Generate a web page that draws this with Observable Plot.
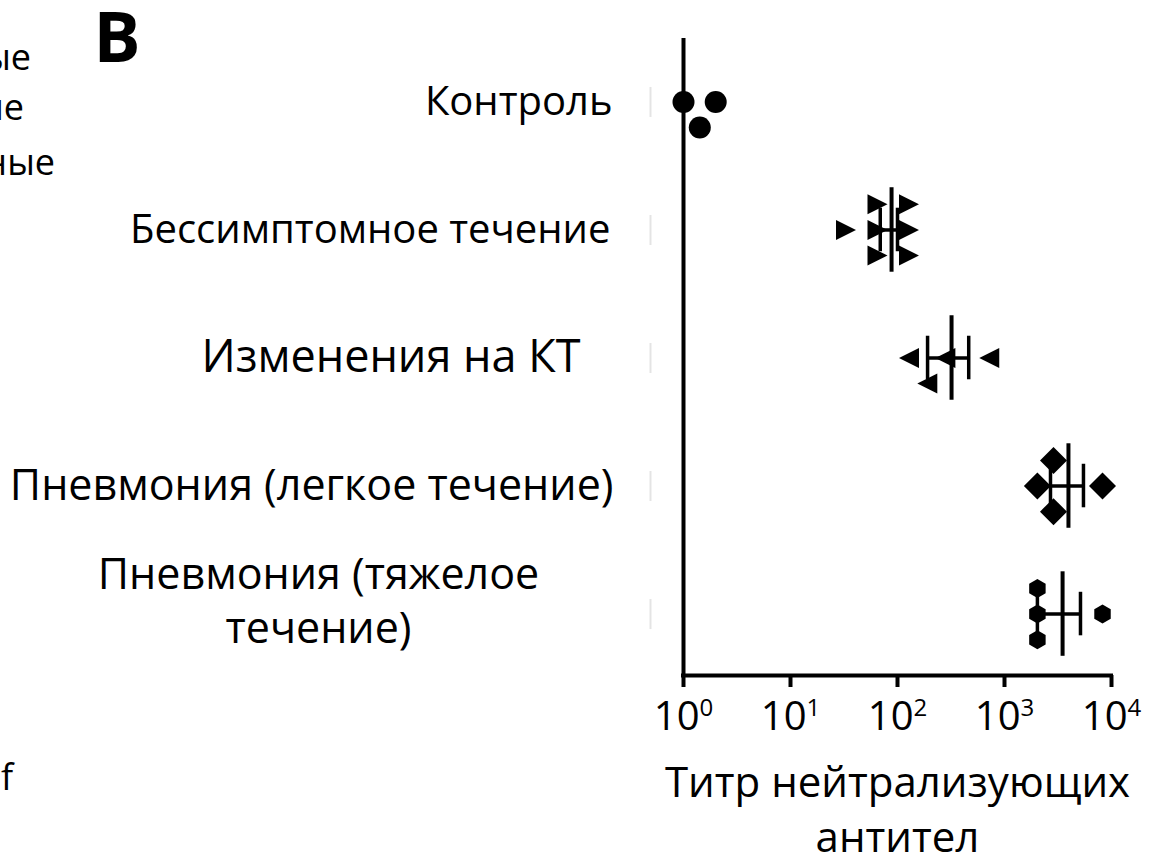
<!DOCTYPE html>
<html><head><meta charset="utf-8">
<script src="https://cdn.jsdelivr.net/npm/d3@7"></script>
<script src="https://cdn.jsdelivr.net/npm/@observablehq/plot@0.6"></script>
<style>body{margin:0;background:#fff}#chart svg{display:block}</style>
</head><body><div id="chart"></div>
<script>
// ---- data ----
const categories = ["Контроль", "Бессимптомное течение", "Изменения на КТ", "Пневмония (легкое течение)", "Пневмония (тяжелое\nтечение)"];
const xTicks = [1, 10, 100, 1000, 10000];
const xTitle = "Титр нейтрализующих\nантител";
const panelLetter = "B";

// individual titers per group, and jitter lane (vertical stacking rank)
const controlValues = [1.0, 2.0, 1.42];
const controlLanes = [0, 0, 1];
const asymptomaticValues = [33, 65, 65, 65, 128, 128, 128];
const asymptomaticLanes = [0, -1, 0, 1, -1, 0, 1];
const ctValues = [128, 280, 190, 720];
const ctLanes = [0, 0, 1, 0];
const mildValues = [2030, 2870, 2870, 8240];
const mildLanes = [0, -1, 1, 0];
const severeValues = [2030, 2030, 2030, 8240];
const severeLanes = [-1, 0, 1, 0];

// summary (mean with error bar) per group
const summaryGroup = [1, 2, 3, 4];
const summaryMean = [88, 320, 3960, 3490];
const summaryLow = [69, 191, 2690, 2030];
const summaryHigh = [100, 463, 5470, 5130];

// ---- symbols ----
const rOf = size => Math.sqrt(size / Math.PI);
const triRight = {draw(c, s){const R = rOf(s); c.moveTo(-R, -R); c.lineTo(R, 0); c.lineTo(-R, R); c.closePath();}};
const triLeft = {draw(c, s){const R = rOf(s); c.moveTo(R, -R); c.lineTo(-R, 0); c.lineTo(R, R); c.closePath();}};
const diamond = {draw(c, s){const R = rOf(s); c.moveTo(0, -R); c.lineTo(R, 0); c.lineTo(0, R); c.lineTo(-R, 0); c.closePath();}};
const hexagon = {draw(c, s){const R = rOf(s); for (let i = 0; i < 6; i++){const a = Math.PI / 3 * i - Math.PI / 2; const px = R * Math.cos(a), py = R * Math.sin(a); if (i) c.lineTo(px, py); else c.moveTo(px, py);} c.closePath();}};
const vline = {draw(c, s){const R = rOf(s); c.moveTo(0, -R); c.lineTo(0, R);}};

const groups = [
  {values: controlValues, lanes: controlLanes, symbol: "circle", r: 11},
  {values: asymptomaticValues, lanes: asymptomaticLanes, symbol: triRight, r: 10},
  {values: ctValues, lanes: ctLanes, symbol: triLeft, r: 10},
  {values: mildValues, lanes: mildLanes, symbol: diamond, r: 13.5},
  {values: severeValues, lanes: severeLanes, symbol: hexagon, r: 9.5}
];
const laneStep = 0.2;
const pad = 0.48;
const yMax = categories.length - 1 + pad;

const summary = summaryGroup.map((g, i) => ({g, mean: summaryMean[i], lo: summaryLow[i], hi: summaryHigh[i]}));

const labelStyle = [
  {dx: -71, fontSize: 40},
  {dx: -73, fontSize: 40},
  {dx: -103, fontSize: 45},
  {dx: -70, fontSize: 43},
  {dx: -365, dy: -15, fontSize: 43, textAnchor: "middle", lineHeight: 1.25}
];

const marks = [];
// faint marks left of the axis
marks.push(Plot.dot(d3.range(categories.length), {y: d => d, frameAnchor: "left", dx: -33, symbol: vline, r: 15, stroke: "#e4e4e4", strokeWidth: 2}));
// points
groups.forEach((g, gi) => {
  const data = g.values.map((v, i) => ({v, y: gi + g.lanes[i] * laneStep}));
  marks.push(Plot.dot(data, {x: "v", y: "y", symbol: g.symbol, r: g.r, fill: "black", stroke: null}));
});
// mean and error bars
marks.push(Plot.ruleY(summary, {y: "g", x1: "lo", x2: "hi", strokeWidth: 3.5}));
marks.push(Plot.ruleX(summary, {x: "mean", y1: d => d.g - 0.33, y2: d => d.g + 0.33, strokeWidth: 4}));
marks.push(Plot.ruleX(summary, {x: "lo", y1: d => d.g - 0.17, y2: d => d.g + 0.17, strokeWidth: 3.5}));
marks.push(Plot.ruleX(summary, {x: "hi", y1: d => d.g - 0.17, y2: d => d.g + 0.17, strokeWidth: 3.5}));
// axes lines
marks.push(Plot.ruleX([1], {strokeWidth: 4, strokeLinecap: "square"}));
marks.push(Plot.ruleY([yMax], {strokeWidth: 4, strokeLinecap: "square"}));
marks.push(Plot.axisX({ticks: xTicks, tickSize: 12, tickPadding: 14, strokeWidth: 4, fontSize: 40, tickFormat: d => String(Math.round(Math.log10(d))), label: null}));
// category labels
categories.forEach((c, i) => {
  marks.push(Plot.text([i], {y: d => d, text: () => c, frameAnchor: "left", textAnchor: "end", ...labelStyle[i]}));
});
// x title
marks.push(Plot.text([xTitle], {frameAnchor: "bottom", lineAnchor: "top", dy: 82, fontSize: 42, lineHeight: 1.31}));

const svg = Plot.plot({
  width: 1158, height: 856,
  marginLeft: 683, marginRight: 47, marginTop: 40, marginBottom: 181,
  style: {fontFamily: "'Open Sans', sans-serif", color: "black", background: "white", overflow: "visible"},
  x: {type: "log", domain: [1, 10000], label: null},
  y: {type: "linear", domain: [yMax, -pad], axis: null},
  marks
});
document.getElementById("chart").appendChild(svg);

// superscript exponents on tick labels
d3.select(svg).selectAll('g[aria-label="x-axis tick label"] text').each(function(){
  const t = d3.select(this);
  const e = t.text();
  t.text(null);
  t.append("tspan").text("10");
  t.append("tspan").attr("font-size", "24px").attr("dy", "-0.6em").text(e);
});

// panel letter and cut-off fragments of neighbouring panel
const s = d3.select(svg);
s.append("text").attr("x", 117).attr("y", 62).attr("text-anchor", "middle").attr("font-weight", "bold").attr("font-size", 70).attr("font-family", "'Open Sans', sans-serif").text(panelLetter);
const frags = [["ые", 31, 70], ["ие", 24, 120], ["ные", 55, 175], ["f", 13, 790]];
frags.forEach(([t, x, y]) => s.append("text").attr("x", x).attr("y", y).attr("text-anchor", "end").attr("font-size", 36).attr("font-family", "'Open Sans', sans-serif").text(t));
</script>
</body></html>
